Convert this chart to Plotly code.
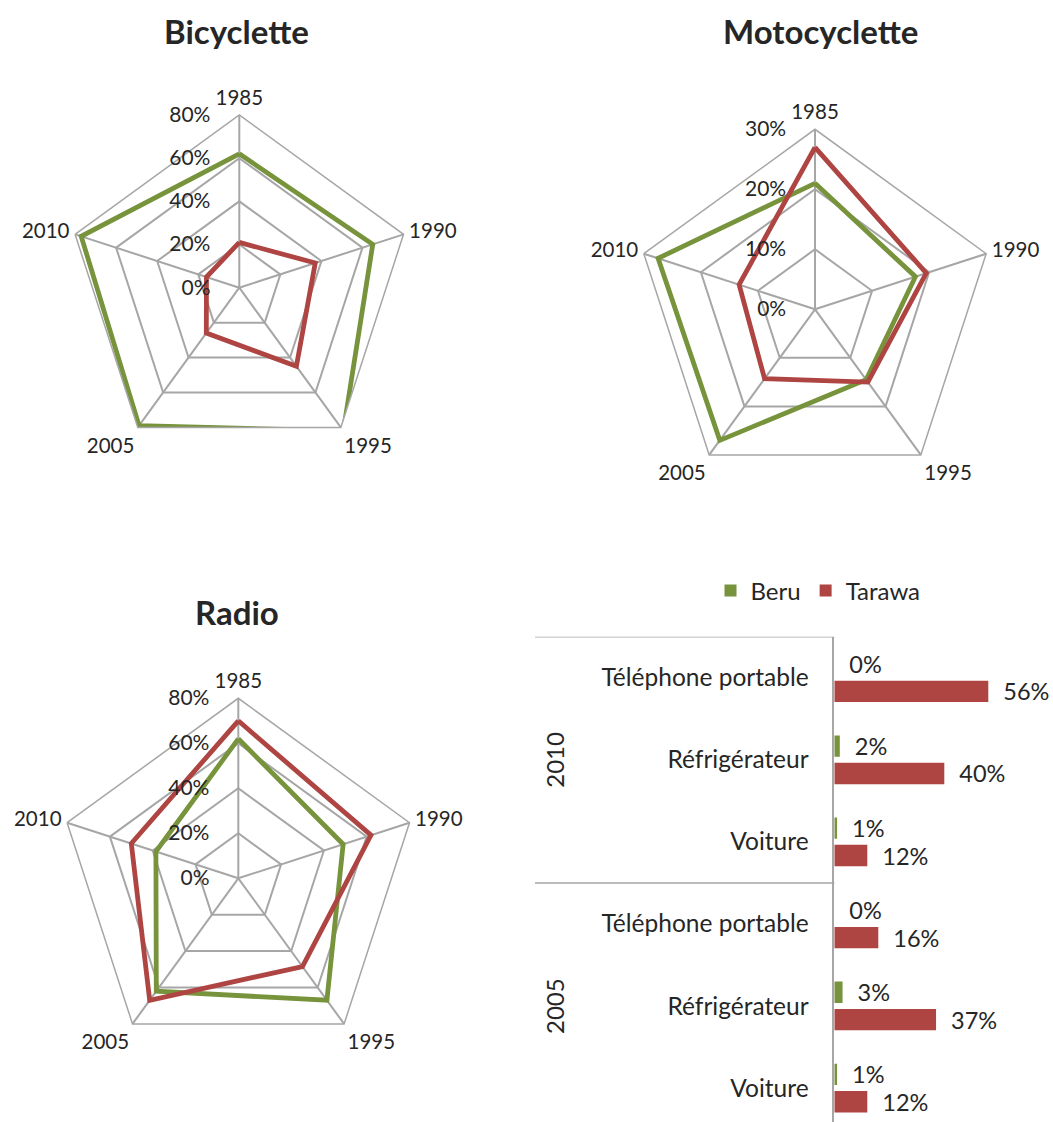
import plotly.graph_objects as go

# ---------------- data ----------------
years = ["1985", "1990", "1995", "2005", "2010"]

bicyclette_beru = [62, 65, 82, 79, 77]
bicyclette_tarawa = [21, 37, 45, 26, 16]

moto_beru = [21, 17.6, 14.5, 27, 27.5]
moto_tarawa = [27, 19.5, 15, 14.3, 13.3]

radio_beru = [62, 49, 67, 62, 38.5]
radio_tarawa = [70, 62, 48.5, 67, 50]

bar_groups = ["2010", "2005"]
bar_items = ["Téléphone portable", "Réfrigérateur", "Voiture"]
bar_beru = [0, 2, 1, 0, 3, 1]
bar_tarawa = [56, 40, 12, 16, 37, 12]

# ---------------- style ----------------
W, H = 1053, 1122
GREEN = "#77933C"
RED = "#AE4542"
GRID = "#A6A6A6"
TXT = "#262626"
FONT = "Lato"


def px_x(p):
    return p / W


def px_y(p):
    return 1 - p / H


fig = go.Figure()

radars = [
    ("polar", "Bicyclette", bicyclette_beru, bicyclette_tarawa, 80, 20, (239.3, 287.7, 172.7)),
    ("polar2", "Motocyclette", moto_beru, moto_tarawa, 30, 10, (815.0, 309.3, 180.0)),
    ("polar3", "Radio", radio_beru, radio_tarawa, 80, 20, (238.3, 878.3, 180.0)),
]

polar_layouts = {}
for subplot, title, beru, tarawa, rmax, dt, (cx, cy, rad) in radars:
    for name, vals, col in (("Beru", beru, GREEN), ("Tarawa", tarawa, RED)):
        fig.add_trace(go.Scatterpolar(
            r=vals + vals[:1], theta=years + years[:1], mode="lines",
            line=dict(color=col, width=4.8), subplot=subplot,
            showlegend=False, cliponaxis=False, name=name))
    polar_layouts[subplot] = dict(
        domain=dict(x=[px_x(cx - rad), px_x(cx + rad)], y=[px_y(cy + rad), px_y(cy - rad)]),
        gridshape="linear",
        bgcolor="rgba(0,0,0,0)",
        angularaxis=dict(
            type="category", categoryarray=years, rotation=90, direction="clockwise",
            showline=True, linecolor=GRID, linewidth=1.5,
            showgrid=True, gridcolor=GRID, gridwidth=1.5,
            ticks="outside", ticklen=1, tickcolor="rgba(0,0,0,0)",
            tickfont=dict(size=20.5, color=TXT, family=FONT)),
        radialaxis=dict(
            range=[0, rmax], dtick=dt, tick0=0, ticksuffix="%", angle=90, tickangle=90,
            side="counterclockwise", showline=False,
            showgrid=True, gridcolor=GRID, gridwidth=1.5,
            ticks="outside", ticklen=21, tickcolor="rgba(0,0,0,0)",
            tickfont=dict(size=21, color=TXT, family=FONT)),
    )

# ---------------- bar chart ----------------
n_items = len(bar_items)
y_pos = list(range(len(bar_groups) * n_items))
tick_text = bar_items * len(bar_groups)

for name, vals, col in (("Beru", bar_beru, GREEN), ("Tarawa", bar_tarawa, RED)):
    fig.add_trace(go.Bar(
        y=y_pos, x=vals, orientation="h", name=name, marker=dict(color=col, line=dict(width=0)),
        texttemplate="\u00a0\u00a0%{x}%", textposition="outside", cliponaxis=False,
        constraintext="none",
        textfont=dict(size=23.5, color=TXT, family=FONT),
        xaxis="x", yaxis="y"))

annotations = []
title_pos = {"Bicyclette": (236.5, 31), "Motocyclette": (820, 31), "Radio": (237, 612)}
for t, (x, y) in title_pos.items():
    annotations.append(dict(text="<b>%s</b>" % t, x=px_x(x), y=px_y(y), xref="paper", yref="paper",
                            xanchor="center", yanchor="middle", showarrow=False,
                            font=dict(size=33, color=TXT, family=FONT)))
for gi, g in enumerate(bar_groups):
    annotations.append(dict(text=g, x=px_x(555), y=gi * n_items + (n_items - 1) / 2,
                            xref="paper", yref="y", textangle=-90, showarrow=False,
                            xanchor="center", yanchor="middle",
                            font=dict(size=24, color=TXT, family=FONT)))

shapes = []
for gi in range(len(bar_groups)):
    yy = gi * n_items - 0.5
    shapes.append(dict(type="line", xref="paper", yref="y", x0=px_x(535), x1=px_x(834.3),
                       y0=yy, y1=yy, line=dict(color=GRID, width=1.5)))

fig.update_layout(
    width=W, height=H,
    margin=dict(l=0, r=0, t=0, b=0),
    paper_bgcolor="white", plot_bgcolor="white",
    font=dict(family=FONT, color=TXT),
    barmode="group", bargap=0.333, bargroupgap=0.22,
    xaxis=dict(domain=[px_x(834.3), px_x(999.3)], range=[0, 60], visible=False, anchor="y"),
    yaxis=dict(domain=[0, px_y(636.7)], range=[5.414, -0.5], tickvals=y_pos, ticktext=tick_text,
               showline=True, linecolor=GRID, linewidth=1.5, showgrid=False, zeroline=False,
               ticks="outside", ticklen=19, tickcolor="rgba(0,0,0,0)", anchor="x",
               tickfont=dict(size=24.5, color=TXT, family=FONT)),
    legend=dict(orientation="h", x=px_x(818), xanchor="center", y=px_y(591), yanchor="middle",
                font=dict(size=24, color=TXT, family=FONT), bgcolor="rgba(0,0,0,0)"),
    annotations=annotations,
    shapes=shapes,
    **polar_layouts,
)

fig.write_html("out.html", config={"displayModeBar": False},
               post_script="document.body.style.margin='0';")
